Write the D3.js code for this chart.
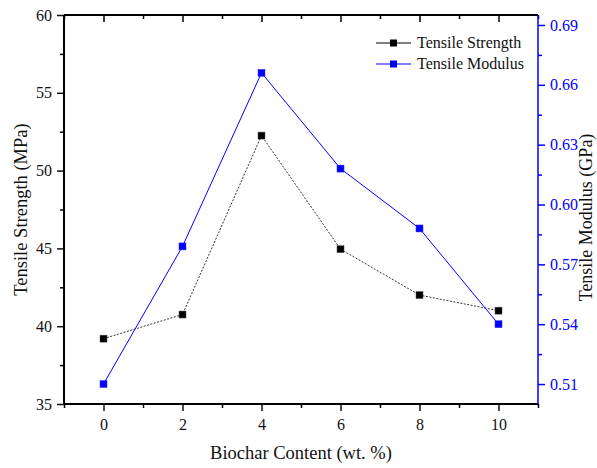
<!DOCTYPE html>
<html lang="en">
<head>
    <meta charset="utf-8" />
    <title>Tensile Strength and Modulus</title>
    <script src="https://d3js.org/d3.v7.min.js"></script>
    <style>
        body { margin: 0; background: #fff; }
        svg text { font-family: "Liberation Serif", "Times New Roman", serif; }
    </style>
</head>
<body>
    <div id="chart"></div>
    <script>
        // data
        var biochar = [0, 2, 4, 6, 8, 10];
        var strength = [39.2, 40.75, 52.25, 44.95, 42.0, 41.0];
        var modulus = [0.51, 0.579, 0.666, 0.618, 0.588, 0.54];
        var xTicks = [0, 2, 4, 6, 8, 10];
        var leftTicks = [35, 40, 45, 50, 55, 60];
        var rightTicks = [0.51, 0.54, 0.57, 0.60, 0.63, 0.66, 0.69];
        var seriesNames = ["Tensile Strength", "Tensile Modulus"];

        var width = 597, height = 468;
        var m = { left: 64, right: 59, top: 15, bottom: 64 };

        var svg = d3.select("#chart").append("svg")
            .attr("width", width)
            .attr("height", height);

        var x = d3.scaleLinear().domain([-1, 11]).range([m.left, width - m.right]);
        var yL = d3.scaleLinear().domain([35, 60]).range([height - m.bottom, m.top]);
        var yR = d3.scaleLinear().domain([0.5, 0.695]).range([height - m.bottom, m.top]);

        var x0 = m.left, x1 = width - m.right, y0 = height - m.bottom, y1 = m.top;

        //minor ticks
        var xMinor = d3.range(-1, 12, 2);
        var lMinor = d3.range(37.5, 60, 5);
        var rMinor = d3.range(0.525, 0.69, 0.03);

        function styleAxis(g, color) {
            g.select(".domain").remove();
            g.selectAll("line").attr("stroke", color).attr("stroke-width", 1.5);
            g.selectAll("text").attr("fill", color).style("font-size", "16px");
        }

        // bottom axis
        svg.append("g").attr("transform", "translate(0," + y0 + ")")
            .call(d3.axisBottom(x).tickValues(xMinor).tickSize(4).tickFormat(""))
            .call(g => styleAxis(g, "#000"));
        svg.append("g").attr("transform", "translate(0," + y0 + ")")
            .call(d3.axisBottom(x).tickValues(xTicks).tickSize(7).tickPadding(8).tickFormat(d3.format("d")))
            .call(g => styleAxis(g, "#111"));

        // top axis (mirror, ticks inside)
        svg.append("g").attr("transform", "translate(0," + y1 + ")")
            .call(d3.axisTop(x).tickValues(xTicks).tickSize(-7).tickFormat(""))
            .call(g => styleAxis(g, "#000"));
        svg.append("g").attr("transform", "translate(0," + y1 + ")")
            .call(d3.axisTop(x).tickValues(xMinor).tickSize(-4).tickFormat(""))
            .call(g => styleAxis(g, "#000"));

        // left axis
        svg.append("g").attr("transform", "translate(" + x0 + ",0)")
            .call(d3.axisLeft(yL).tickValues(lMinor).tickSize(4).tickFormat(""))
            .call(g => styleAxis(g, "#000"));
        svg.append("g").attr("transform", "translate(" + x0 + ",0)")
            .call(d3.axisLeft(yL).tickValues(leftTicks).tickSize(7).tickPadding(5).tickFormat(d3.format("d")))
            .call(g => styleAxis(g, "#111"));

        // right axis (blue)
        svg.append("g").attr("transform", "translate(" + x1 + ",0)")
            .call(d3.axisRight(yR).tickValues(rMinor).tickSize(4).tickFormat(""))
            .call(g => styleAxis(g, "#00f"));
        svg.append("g").attr("transform", "translate(" + x1 + ",0)")
            .call(d3.axisRight(yR).tickValues(rightTicks).tickSize(7).tickPadding(5).tickFormat(d3.format(".2f")))
            .call(g => styleAxis(g, "#00f"));

        // frame
        svg.append("line").attr("x1", x0).attr("x2", x1).attr("y1", y1).attr("y2", y1)
            .attr("stroke", "#000").attr("stroke-width", 2);
        svg.append("line").attr("x1", x0).attr("x2", x1).attr("y1", y0).attr("y2", y0)
            .attr("stroke", "#000").attr("stroke-width", 2);
        svg.append("line").attr("x1", x0).attr("x2", x0).attr("y1", y1).attr("y2", y0)
            .attr("stroke", "#000").attr("stroke-width", 2);
        svg.append("line").attr("x1", x1).attr("x2", x1).attr("y1", y1).attr("y2", y0)
            .attr("stroke", "#00f").attr("stroke-width", 1.5);

        // axis titles
        svg.append("text").attr("x", (x0 + x1) / 2).attr("y", 459)
            .attr("text-anchor", "middle").style("font-size", "18.5px").attr("fill", "#111")
            .text("Biochar Content (wt. %)");
        svg.append("text").attr("transform", "translate(27," + ((y0 + y1) / 2) + ") rotate(-90)")
            .attr("text-anchor", "middle").style("font-size", "18.5px").attr("fill", "#111")
            .text("Tensile Strength (MPa)");
        svg.append("text").attr("transform", "translate(592," + ((y0 + y1) / 2 + 8) + ") rotate(-90)")
            .attr("text-anchor", "middle").style("font-size", "18px").attr("fill", "#111")
            .text("Tensile Modulus (GPa)");

        // lines
        var sData = biochar.map((b, i) => ({ x: b, y: strength[i] }));
        var mData = biochar.map((b, i) => ({ x: b, y: modulus[i] }));

        svg.append("path").datum(sData)
            .attr("d", d3.line().x(d => x(d.x)).y(d => yL(d.y)))
            .attr("fill", "none").attr("stroke", "#333").attr("stroke-width", 1)
            .attr("stroke-dasharray", "2,1.5");
        svg.append("path").datum(mData)
            .attr("d", d3.line().x(d => x(d.x)).y(d => yR(d.y)))
            .attr("fill", "none").attr("stroke", "#00f").attr("stroke-width", 1);

        var sz = 7;
        svg.selectAll(".sq-s").data(sData).enter().append("rect")
            .attr("x", d => x(d.x) - sz / 2).attr("y", d => yL(d.y) - sz / 2)
            .attr("width", sz).attr("height", sz)
            .attr("fill", "#000").attr("stroke", "#555").attr("stroke-width", 0.5);
        svg.selectAll(".sq-m").data(mData).enter().append("rect")
            .attr("x", d => x(d.x) - sz / 2).attr("y", d => yR(d.y) - sz / 2)
            .attr("width", sz).attr("height", sz)
            .attr("fill", "#00f").attr("stroke", "#33f").attr("stroke-width", 0.5);

        // legend
        var legColors = ["#000", "#00f"];
        var leg = svg.selectAll(".leg").data(seriesNames).enter().append("g")
            .attr("transform", (d, i) => "translate(376," + (43 + i * 21) + ")");
        leg.append("line").attr("x1", 0).attr("x2", 35).attr("y1", 0).attr("y2", 0)
            .attr("stroke", (d, i) => legColors[i]).attr("stroke-width", 1);
        leg.append("rect").attr("x", 17.5 - sz / 2).attr("y", -sz / 2)
            .attr("width", sz).attr("height", sz)
            .attr("fill", (d, i) => legColors[i]);
        leg.append("text").attr("x", 41).attr("y", 5)
            .style("font-size", "16px").attr("fill", "#111")
            .text(d => d);
    </script>
</body>
</html>
